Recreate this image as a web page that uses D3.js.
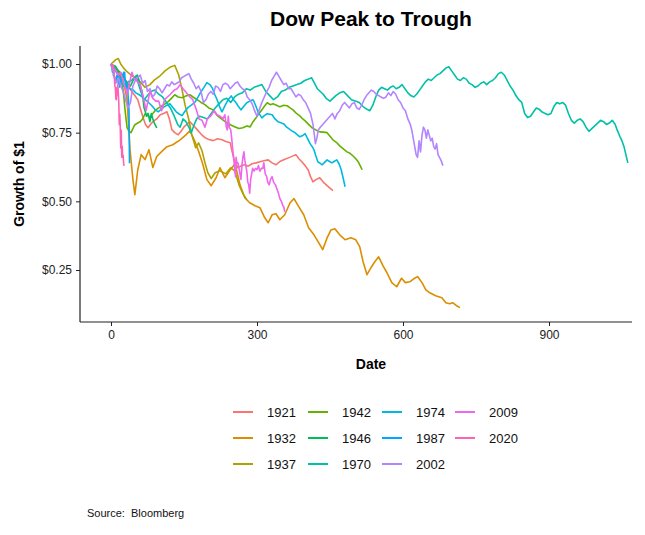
<!DOCTYPE html>
<html><head><meta charset="utf-8">
<script src="https://cdn.jsdelivr.net/npm/d3@7/dist/d3.min.js"></script>
<style>body{margin:0;background:#fff} svg{font-family:"Liberation Sans",Arial,sans-serif}</style>
</head><body><svg id="c" width="645" height="535"></svg>
<script>
const years = ["1921","1932","1937","1942","1946","1970","1974","1987","2002","2009","2020"];
const colors = ["#F8766D","#DB8E00","#AEA200","#64B200","#00BD5C","#00C1A7","#00BADE","#00A6FF","#B385FF","#EF67EB","#FF63B6"];
const xTicks = [0,300,600,900];
const yTicks = [0.25,0.5,0.75,1.0];
const yTickLabels = ["$0.25","$0.50","$0.75","$1.00"];

const s1921 = [[0,1.0],[7,0.99],[14,0.979],[22,0.96],[29,0.943],[36,0.92],[43,0.899],[49,0.885],[55,0.87],[60,0.84],[66,0.804],[71,0.78],[76,0.768],[81,0.78],[86,0.79],[94,0.80],[101,0.815],[108,0.82],[115,0.826],[120,0.80],[125,0.761],[131,0.75],[138,0.742],[144,0.755],[150,0.771],[156,0.78],[162,0.79],[170,0.775],[177,0.761],[185,0.745],[193,0.732],[201,0.725],[210,0.721],[219,0.728],[228,0.724],[236,0.718],[245,0.713],[249,0.68],[253,0.651],[257,0.635],[261,0.622],[268,0.63],[275,0.633],[282,0.628],[290,0.637],[298,0.64],[306,0.644],[314,0.648],[323,0.651],[331,0.64],[339,0.633],[347,0.645],[355,0.651],[367,0.66],[380,0.67],[386,0.655],[392,0.644],[399,0.63],[405,0.615],[410,0.59],[415,0.571],[422,0.58],[429,0.586],[436,0.57],[444,0.557],[450,0.548],[456,0.539]];

const s1932 = [[0,1.0],[8,0.986],[16,0.972],[25,0.943],[33,0.87],[39,0.69],[45,0.58],[49,0.524],[55,0.615],[62,0.67],[70,0.652],[78,0.688],[86,0.623],[94,0.663],[104,0.681],[115,0.699],[127,0.706],[142,0.724],[154,0.742],[162,0.757],[171,0.724],[179,0.688],[189,0.633],[197,0.579],[206,0.557],[216,0.586],[224,0.622],[234,0.586],[245,0.615],[255,0.637],[265,0.56],[275,0.513],[285,0.495],[296,0.484],[306,0.477],[316,0.44],[323,0.422],[331,0.451],[339,0.455],[347,0.433],[357,0.451],[368,0.495],[376,0.51],[386,0.48],[396,0.451],[406,0.404],[417,0.378],[427,0.349],[435,0.324],[444,0.367],[452,0.396],[460,0.40],[470,0.378],[481,0.36],[493,0.367],[503,0.36],[511,0.335],[518,0.28],[526,0.233],[534,0.258],[542,0.28],[550,0.298],[559,0.265],[567,0.24],[577,0.204],[587,0.189],[597,0.22],[605,0.204],[614,0.207],[622,0.218],[630,0.226],[639,0.204],[647,0.178],[655,0.167],[667,0.156],[680,0.149],[688,0.131],[696,0.127],[702,0.131],[710,0.12],[717,0.113]];

const s1937 = [[0,1.0],[5,1.008],[10,1.016],[15,1.02],[20,1.0],[26,0.985],[33,0.972],[41,0.96],[50,0.95],[60,0.935],[70,0.915],[80,0.925],[90,0.943],[101,0.957],[111,0.975],[121,0.988],[131,0.995],[139,0.961],[146,0.906],[152,0.852],[160,0.797],[166,0.742],[174,0.695],[180,0.713],[187,0.684],[193,0.641],[199,0.604],[206,0.583],[214,0.604],[224,0.611],[236,0.60],[246,0.622],[254,0.611],[263,0.56],[271,0.528],[279,0.506]];

const s1942 = [[0,1.0],[8,0.986],[16,0.972],[21,0.94],[25,0.906],[29,0.83],[33,0.768],[37,0.755],[41,0.75],[45,0.765],[49,0.779],[55,0.785],[60,0.79],[65,0.80],[70,0.819],[75,0.812],[80,0.808],[86,0.82],[92,0.833],[98,0.84],[105,0.848],[111,0.855],[117,0.862],[124,0.875],[131,0.888],[138,0.88],[146,0.877],[154,0.884],[162,0.888],[170,0.878],[177,0.87],[185,0.86],[193,0.852],[201,0.84],[210,0.833],[217,0.815],[224,0.804],[231,0.795],[238,0.786],[246,0.778],[255,0.771],[263,0.765],[271,0.768],[279,0.774],[286,0.771],[292,0.79],[298,0.804],[304,0.82],[310,0.833],[316,0.848],[321,0.859],[327,0.852],[333,0.855],[340,0.85],[347,0.844],[355,0.85],[362,0.848],[368,0.84],[374,0.833],[381,0.82],[388,0.811],[394,0.80],[399,0.793],[406,0.78],[413,0.768],[421,0.76],[429,0.753],[436,0.752],[444,0.75],[450,0.737],[456,0.724],[463,0.715],[470,0.702],[478,0.69],[485,0.68],[491,0.675],[497,0.666],[503,0.655],[508,0.644],[512,0.63],[516,0.615]];

const s1946 = [[0,1.0],[3,0.99],[6,0.995],[10,0.99],[14,0.975],[18,0.97],[22,0.965],[26,0.955],[30,0.94],[33,0.93],[37,0.925],[40,0.92],[44,0.935],[48,0.95],[51,0.955],[54,0.96],[57,0.945],[60,0.92],[64,0.90],[66,0.87],[68,0.84],[70,0.83],[73,0.81],[76,0.82],[80,0.79],[83,0.82],[86,0.80],[89,0.785],[92,0.775],[94,0.767]];

const s1970 = [[0,1.0],[8,0.985],[15,0.96],[22,0.93],[28,0.915],[35,0.935],[42,0.94],[50,0.955],[56,0.93],[62,0.895],[68,0.87],[75,0.885],[82,0.90],[90,0.905],[98,0.89],[106,0.88],[114,0.86],[122,0.84],[130,0.81],[137,0.78],[142,0.77],[148,0.80],[154,0.79],[160,0.77],[165,0.75],[170,0.775],[176,0.80],[182,0.81],[190,0.805],[198,0.80],[206,0.82],[214,0.84],[222,0.855],[230,0.87],[238,0.875],[246,0.86],[254,0.88],[262,0.89],[270,0.895],[278,0.91],[286,0.905],[294,0.915],[302,0.92],[310,0.925],[318,0.90],[326,0.885],[334,0.87],[342,0.88],[350,0.90],[358,0.905],[366,0.915],[374,0.92],[382,0.925],[390,0.93],[398,0.94],[406,0.945],[412,0.95],[418,0.93],[424,0.91],[430,0.90],[436,0.89],[442,0.875],[450,0.865],[456,0.875],[462,0.885],[470,0.895],[478,0.90],[486,0.885],[494,0.87],[502,0.865],[510,0.86],[518,0.845],[526,0.835],[532,0.83],[538,0.85],[544,0.88],[550,0.905],[556,0.915],[562,0.91],[568,0.905],[574,0.915],[580,0.92],[586,0.91],[592,0.915],[598,0.925],[604,0.91],[610,0.895],[616,0.885],[622,0.88],[628,0.89],[634,0.905],[640,0.92],[646,0.935],[652,0.945],[658,0.94],[664,0.95],[670,0.96],[676,0.965],[682,0.975],[688,0.985],[694,0.99],[700,0.975],[706,0.96],[712,0.945],[718,0.94],[724,0.95],[730,0.945],[736,0.93],[742,0.925],[748,0.915],[754,0.92],[760,0.93],[766,0.935],[772,0.925],[778,0.935],[784,0.94],[790,0.95],[796,0.965],[802,0.97],[808,0.96],[814,0.94],[820,0.92],[826,0.905],[832,0.885],[838,0.87],[844,0.86],[850,0.82],[856,0.805],[862,0.81],[868,0.825],[874,0.84],[880,0.835],[886,0.825],[892,0.82],[898,0.815],[904,0.82],[910,0.845],[916,0.86],[922,0.855],[928,0.86],[934,0.85],[940,0.82],[946,0.795],[952,0.785],[958,0.795],[964,0.80],[970,0.79],[976,0.77],[982,0.755],[988,0.765],[994,0.775],[1000,0.785],[1006,0.795],[1012,0.79],[1018,0.78],[1024,0.785],[1030,0.795],[1036,0.78],[1040,0.76],[1046,0.735],[1050,0.72],[1054,0.70],[1058,0.67],[1062,0.64]];

const s1974 = [[0,1.0],[5,0.985],[10,0.972],[16,0.955],[21,0.943],[27,0.928],[33,0.913],[39,0.91],[45,0.906],[51,0.895],[58,0.888],[64,0.88],[70,0.87],[77,0.86],[84,0.848],[90,0.835],[97,0.826],[103,0.835],[109,0.844],[115,0.85],[121,0.855],[128,0.84],[134,0.826],[140,0.818],[146,0.812],[152,0.828],[158,0.841],[165,0.85],[173,0.862],[179,0.88],[185,0.899],[191,0.915],[197,0.932],[203,0.925],[208,0.913],[213,0.89],[218,0.87],[223,0.845],[228,0.826],[232,0.84],[236,0.855],[241,0.87],[247,0.884],[252,0.87],[257,0.859],[262,0.845],[267,0.833],[273,0.846],[279,0.859],[285,0.865],[292,0.87],[297,0.85],[302,0.826],[306,0.815],[310,0.804],[315,0.812],[321,0.819],[326,0.817],[331,0.815],[337,0.80],[343,0.79],[349,0.786],[355,0.782],[361,0.77],[368,0.761],[373,0.755],[378,0.75],[383,0.742],[388,0.735],[394,0.74],[399,0.746],[404,0.728],[409,0.71],[413,0.70],[417,0.688],[421,0.665],[425,0.644],[430,0.638],[434,0.633],[439,0.642],[444,0.651],[449,0.645],[454,0.64],[459,0.646],[464,0.651],[469,0.635],[473,0.615],[477,0.585],[481,0.553]];

const s1987 = [1.0,0.992,0.983,0.970,0.978,0.959,0.956,0.955,0.941,0.935,0.936,0.944,0.958,0.960,0.943,0.930,0.928,0.927,0.916,0.943,0.950,0.943,0.944,0.956,0.952,0.954,0.970,0.970,0.970,0.936,0.937,0.925,0.912,0.908,0.921,0.886,0.865,0.826,0.639].map((v,i)=>[i,v]);

const s2002 = [[0,1.0],[5,0.97],[10,0.93],[15,0.95],[20,0.92],[25,0.90],[30,0.87],[35,0.84],[40,0.86],[45,0.92],[50,0.94],[55,0.95],[60,0.96],[65,0.93],[70,0.94],[75,0.90],[80,0.91],[85,0.88],[90,0.89],[95,0.92],[100,0.91],[105,0.895],[110,0.91],[115,0.925],[120,0.92],[125,0.935],[130,0.925],[135,0.93],[140,0.935],[145,0.95],[150,0.955],[155,0.96],[160,0.965],[165,0.945],[170,0.93],[175,0.91],[180,0.92],[185,0.90],[190,0.86],[195,0.87],[200,0.89],[205,0.90],[210,0.89],[215,0.92],[220,0.915],[225,0.90],[230,0.925],[235,0.93],[240,0.925],[245,0.91],[250,0.92],[255,0.93],[260,0.935],[265,0.92],[270,0.91],[275,0.905],[280,0.88],[285,0.87],[290,0.855],[295,0.83],[300,0.81],[305,0.835],[310,0.86],[315,0.88],[320,0.90],[325,0.915],[330,0.94],[335,0.955],[340,0.97],[345,0.955],[350,0.94],[355,0.925],[360,0.93],[365,0.91],[370,0.91],[375,0.895],[380,0.88],[385,0.89],[390,0.885],[395,0.87],[400,0.86],[405,0.84],[410,0.82],[415,0.78],[418,0.74],[420,0.71],[423,0.73],[426,0.76],[430,0.77],[435,0.78],[440,0.79],[445,0.80],[450,0.81],[455,0.82],[460,0.80],[465,0.82],[470,0.83],[475,0.85],[480,0.86],[485,0.85],[490,0.84],[495,0.855],[500,0.86],[505,0.84],[510,0.835],[515,0.85],[520,0.87],[525,0.885],[530,0.895],[535,0.905],[540,0.90],[545,0.89],[550,0.885],[555,0.88],[560,0.875],[565,0.88],[570,0.895],[575,0.885],[580,0.90],[585,0.89],[590,0.87],[595,0.86],[600,0.84],[605,0.83],[610,0.80],[615,0.78],[618,0.76],[621,0.73],[624,0.70],[627,0.67],[630,0.66],[633,0.72],[636,0.68],[639,0.74],[642,0.77],[645,0.76],[648,0.73],[651,0.76],[654,0.74],[657,0.72],[660,0.73],[663,0.70],[666,0.69],[669,0.71],[672,0.67],[675,0.66],[678,0.65],[682,0.63]];

const s2009 = [[0,1.0],[5,0.985],[10,0.975],[15,0.96],[20,0.97],[25,0.935],[30,0.91],[33,0.89],[38,0.93],[43,0.97],[48,0.945],[55,0.935],[60,0.925],[66,0.88],[70,0.85],[72,0.83],[76,0.865],[80,0.90],[86,0.875],[92,0.865],[98,0.865],[104,0.83],[110,0.87],[116,0.88],[122,0.89],[130,0.905],[136,0.91],[142,0.925],[148,0.91],[155,0.895],[162,0.88],[168,0.87],[175,0.835],[181,0.80],[187,0.795],[193,0.77],[198,0.80],[205,0.81],[212,0.83],[218,0.815],[224,0.81],[230,0.80],[234,0.815],[237,0.77],[239,0.76],[241,0.81],[243,0.77],[246,0.76],[248,0.73],[250,0.69],[252,0.66],[254,0.62],[256,0.59],[257,0.66],[259,0.64],[261,0.64],[263,0.62],[265,0.60],[267,0.58],[269,0.63],[271,0.66],[273,0.68],[275,0.65],[277,0.63],[279,0.61],[281,0.57],[283,0.56],[285,0.53],[287,0.58],[289,0.60],[291,0.62],[294,0.61],[297,0.62],[300,0.615],[303,0.63],[306,0.61],[309,0.62],[312,0.62],[314,0.64],[317,0.60],[320,0.59],[322,0.57],[325,0.56],[328,0.58],[331,0.59],[334,0.57],[338,0.56],[341,0.545],[344,0.53],[347,0.51],[350,0.50],[353,0.485],[355,0.48],[357,0.462]];

const s2020 = [1.0,0.996,0.997,0.991,0.996,0.991,0.982,0.948,0.918,0.914,0.873,0.870,0.914,0.887,0.925,0.894,0.863,0.779,0.818,0.771,0.694,0.759,0.661,0.700,0.660,0.668,0.637,0.629].map((v,i)=>[i,v]);

const seriesData = [s1921,s1932,s1937,s1942,s1946,s1970,s1974,s1987,s2002,s2009,s2020];

const svg = d3.select("#c");
const panel = {left:80, right:632, top:46, bottom:322};
const x = d3.scaleLinear().domain([0,900]).range([111,549]);
const y = d3.scaleLinear().domain([0.25,1.0]).range([270,64]);

// title
svg.append("text").attr("x",371).attr("y",26).attr("text-anchor","middle")
  .attr("font-size",21).attr("font-weight","bold").attr("fill","#000").text("Dow Peak to Trough");

// lines
const line = d3.line().x(d=>x(d[0])).y(d=>y(d[1]));
const g = svg.append("g");
seriesData.forEach((s,i)=>{
  g.append("path").attr("d",line(s)).attr("fill","none")
   .attr("stroke",colors[i]).attr("stroke-width",1.6).attr("stroke-linejoin","round");
});

// axes
const xAxis = d3.axisBottom(x).tickValues(xTicks).tickSize(4).tickPadding(4).tickFormat(d3.format("d"));
const gx = svg.append("g").attr("transform",`translate(0,${panel.bottom})`).call(xAxis);
gx.select(".domain").remove();
const yAxis = d3.axisLeft(y).tickValues(yTicks).tickSize(4).tickPadding(4).tickFormat((d,i)=>yTickLabels[i]);
const gy = svg.append("g").attr("transform",`translate(${panel.left},0)`).call(yAxis);
gy.select(".domain").remove();
[gx,gy].forEach(a=>{a.selectAll("text").attr("font-size",12).attr("fill","#222").attr("font-family","Liberation Sans, Arial, sans-serif");
  a.selectAll("line").attr("stroke","#222");});
svg.append("line").attr("x1",panel.left).attr("x2",panel.right).attr("y1",panel.bottom).attr("y2",panel.bottom).attr("stroke","#222").attr("stroke-width",1.2);
svg.append("line").attr("x1",panel.left).attr("x2",panel.left).attr("y1",panel.top).attr("y2",panel.bottom).attr("stroke","#222").attr("stroke-width",1.2);

// axis titles
svg.append("text").attr("x",371).attr("y",369).attr("text-anchor","middle")
  .attr("font-size",14).attr("font-weight","bold").text("Date");
svg.append("text").attr("transform",`translate(24,${(panel.top+panel.bottom)/2}) rotate(-90)`).attr("text-anchor","middle")
  .attr("font-size",14).attr("font-weight","bold").text("Growth of $1");

// legend (column-major, 3 rows)
const colX = [233,308,382,455];
const rowY = [412,438,464];
years.forEach((yr,i)=>{
  const c = Math.floor(i/3), r = i%3;
  const lg = svg.append("g").attr("transform",`translate(${colX[c]},${rowY[r]})`);
  lg.append("line").attr("x1",0).attr("x2",20).attr("y1",0).attr("y2",0).attr("stroke",colors[i]).attr("stroke-width",2);
  lg.append("text").attr("x",34).attr("y",5).attr("font-size",13).attr("fill","#111").text(yr);
});

// caption
svg.append("text").attr("x",87).attr("y",517).attr("font-size",11).attr("fill","#111")
  .style("white-space","pre").text("Source:  Bloomberg");
</script></body></html>
